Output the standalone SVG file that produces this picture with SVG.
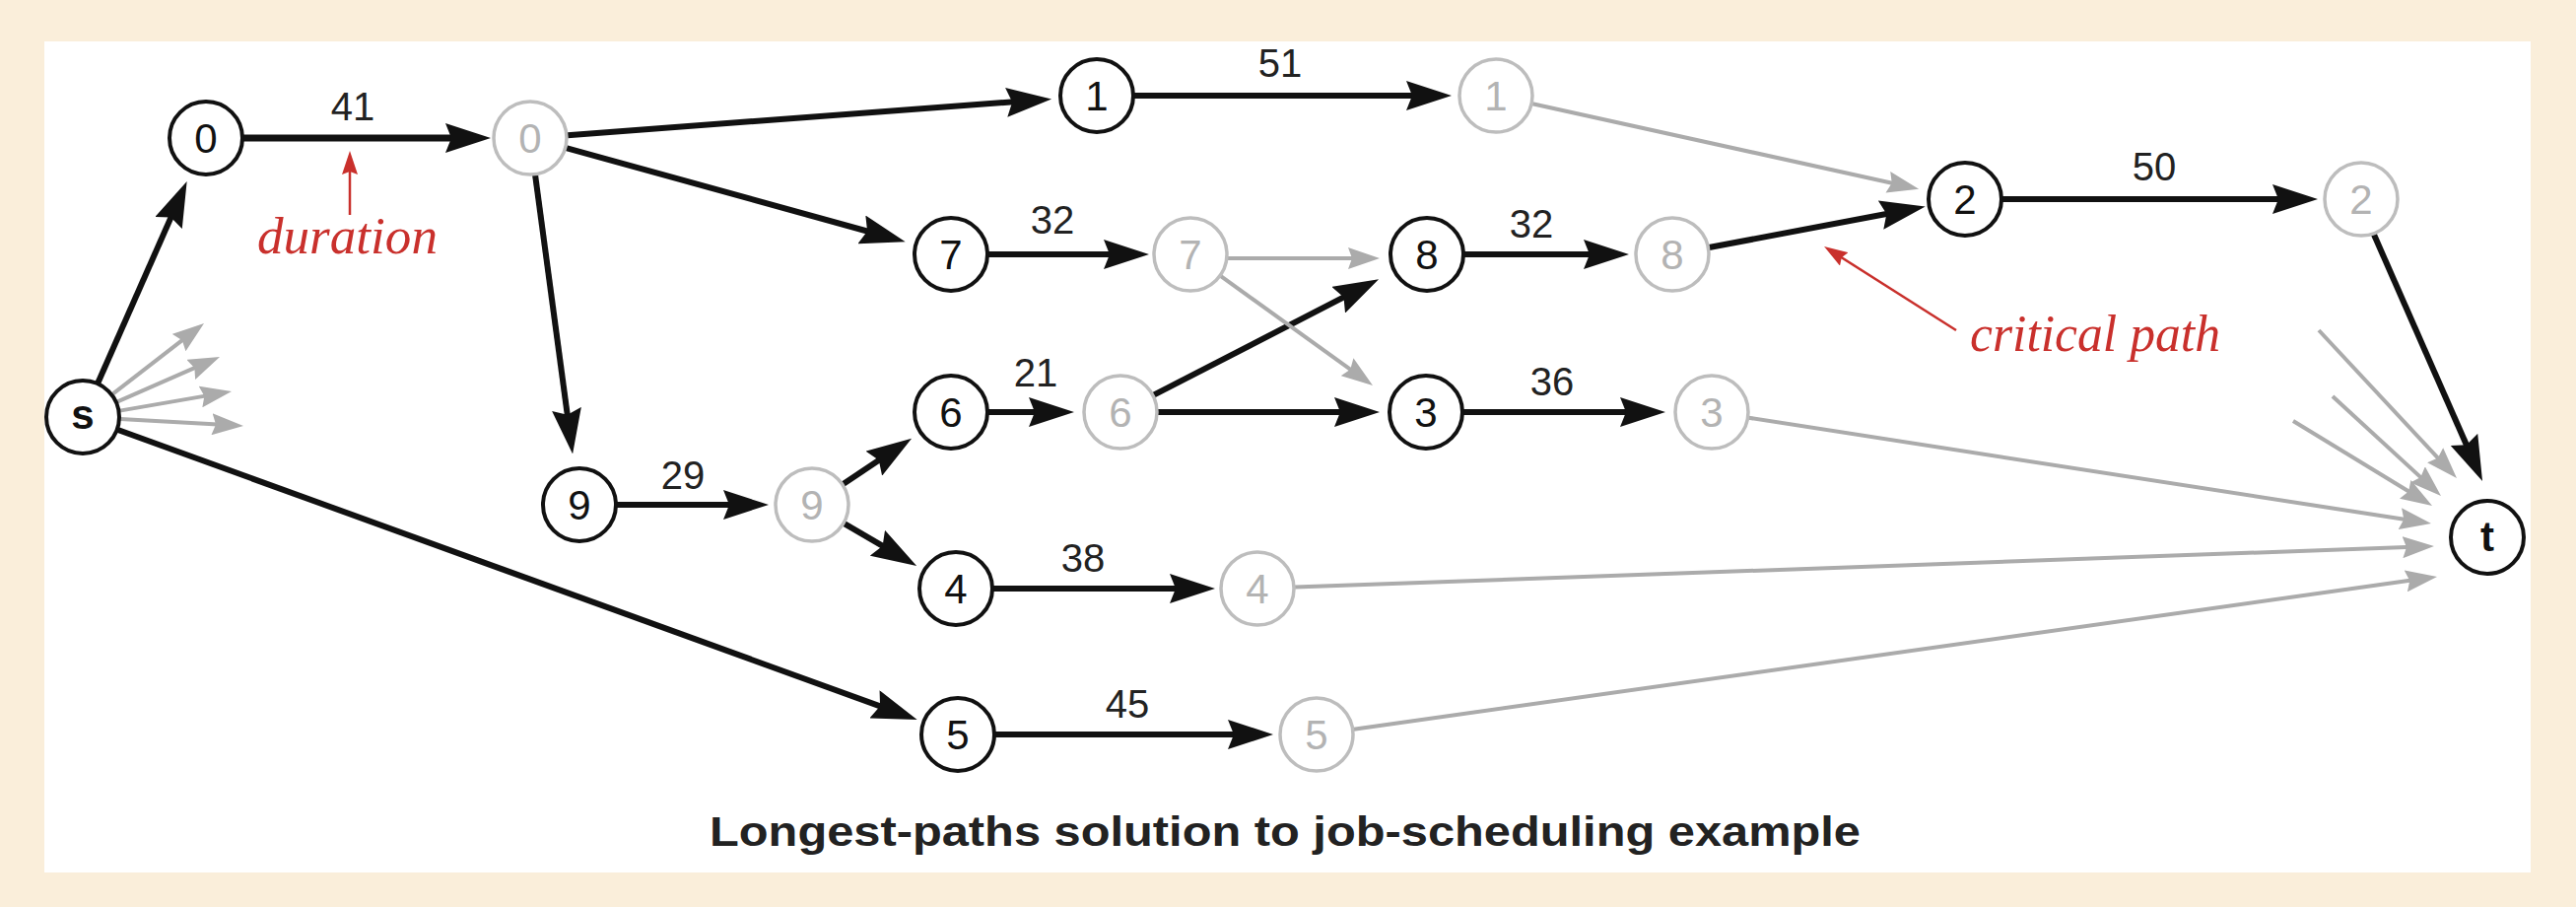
<svg xmlns="http://www.w3.org/2000/svg" width="2614" height="920" viewBox="0 0 2614 920">
<style>
.bk{fill:none;stroke:#111;stroke-width:6;marker-end:url(#ab)}
.gy{fill:none;stroke:#ababab;stroke-width:4;marker-end:url(#ag)}
.rd{fill:none;stroke:#c9302c;stroke-width:2.5;marker-end:url(#ar)}
.nb circle{fill:#fff;stroke:#111;stroke-width:4}
.ng circle{fill:#fff;stroke:#bdbdbd;stroke-width:3.5}
.nb text{font-family:"Liberation Sans",Arial,sans-serif;font-size:42px;fill:#111;text-anchor:middle}
.ng text{font-family:"Liberation Sans",Arial,sans-serif;font-size:42px;fill:#b3b3b3;text-anchor:middle}
.lbl{font-family:"Liberation Sans",Arial,sans-serif;font-size:40px;fill:#222;text-anchor:middle}
.ann{font-family:"Liberation Serif","Times New Roman",serif;font-style:italic;font-size:52px;fill:#c9302c}
.title{font-family:"Liberation Sans",Arial,sans-serif;font-weight:bold;font-size:42px;fill:#222}
</style>
<defs>
<marker id="ab" markerUnits="userSpaceOnUse" markerWidth="46" markerHeight="30" refX="34" refY="15" orient="auto"><path d="M0,0 L46,15 L0,30 L6,15 z" fill="#111"/></marker>
<marker id="ag" markerUnits="userSpaceOnUse" markerWidth="32" markerHeight="22" refX="24" refY="11" orient="auto"><path d="M0,0 L32,11 L0,22 L4,11 z" fill="#ababab"/></marker>
<marker id="ar" markerUnits="userSpaceOnUse" markerWidth="24" markerHeight="16" refX="18" refY="8" orient="auto"><path d="M0,0 L24,8 L0,16 L3,8 z" fill="#c9302c"/></marker>
</defs>
<rect x="0" y="0" width="2614" height="920" fill="#faeeda"/>
<rect x="45" y="42" width="2523" height="843" fill="#fff"/>

<g id="connectors">
<!-- black edges -->
<line class="bk" x1="99.4" y1="388.2" x2="184.8" y2="194.9"/>
<line class="bk" x1="247" y1="140" x2="486" y2="140" style="stroke-width:7"/>
<line class="bk" x1="575.9" y1="137.2" x2="1055.1" y2="101.3"/>
<line class="bk" x1="574.6" y1="150.1" x2="907.1" y2="242.0"/>
<line class="bk" x1="543.1" y1="177.7" x2="579.5" y2="448.6"/>
<line class="bk" x1="1151" y1="97" x2="1461" y2="97"/>
<line class="bk" x1="1003" y1="258" x2="1154" y2="258"/>
<line class="bk" x1="1486" y1="258" x2="1641" y2="258"/>
<line class="bk" x1="1734.3" y1="251.0" x2="1941.9" y2="211.8"/>
<line class="bk" x1="2032" y1="202" x2="2340" y2="202"/>
<line class="bk" x1="2409" y1="238" x2="2514.2" y2="477.0"/>
<line class="bk" x1="1003" y1="418" x2="1078" y2="418"/>
<line class="bk" x1="1170.8" y1="400.6" x2="1388.4" y2="288.7"/>
<line class="bk" x1="1175" y1="418" x2="1388" y2="418"/>
<line class="bk" x1="1485" y1="418" x2="1678" y2="418"/>
<line class="bk" x1="626" y1="512" x2="768" y2="512"/>
<line class="bk" x1="855.6" y1="490.9" x2="915.1" y2="451.3"/>
<line class="bk" x1="856.8" y1="531.1" x2="919.8" y2="567.9"/>
<line class="bk" x1="1008" y1="597" x2="1221" y2="597"/>
<line class="bk" x1="119.7" y1="436.0" x2="919.4" y2="725.9"/>
<line class="bk" x1="1010" y1="745" x2="1280" y2="745"/>
<!-- gray edges -->
<line class="gy" x1="1555.1" y1="105.2" x2="1939.3" y2="190.0"/>
<line class="gy" x1="1246" y1="262" x2="1392" y2="262"/>
<line class="gy" x1="1238.9" y1="280.2" x2="1386.5" y2="386.3"/>
<line class="gy" x1="1774.6" y1="423.8" x2="2459.1" y2="529.8"/>
<line class="gy" x1="1314" y1="595.6" x2="2462" y2="554.3"/>
<line class="gy" x1="1373.6" y1="739.7" x2="2465.1" y2="586.1"/>
<line class="gy" x1="2353" y1="335" x2="2487.5" y2="479.2"/>
<line class="gy" x1="2367" y1="402" x2="2471.1" y2="497.6"/>
<line class="gy" x1="2327" y1="427" x2="2461.2" y2="508.8"/>
<line class="gy" x1="114.1" y1="399.8" x2="200.7" y2="332.9"/>
<line class="gy" x1="118.8" y1="407.7" x2="215.7" y2="365.2"/>
<line class="gy" x1="121.5" y1="416.6" x2="227.1" y2="398.4"/>
<line class="gy" x1="122" y1="425.1" x2="239" y2="431.6"/>
<!-- edge labels -->
<text class="lbl" x="358" y="122">41</text>
<text class="lbl" x="1299" y="78">51</text>
<text class="lbl" x="1068" y="237">32</text>
<text class="lbl" x="1051" y="392">21</text>
<text class="lbl" x="1554" y="241">32</text>
<text class="lbl" x="1575" y="401">36</text>
<text class="lbl" x="2186" y="183">50</text>
<text class="lbl" x="693" y="496">29</text>
<text class="lbl" x="1099" y="580">38</text>
<text class="lbl" x="1144" y="728">45</text>
</g>

<g id="annotations">
<line class="rd" x1="355" y1="218" x2="355" y2="159"/>
<text class="ann" x="261" y="257" textLength="183" lengthAdjust="spacingAndGlyphs">duration</text>
<line class="rd" x1="1985" y1="335" x2="1856.1" y2="253.2"/>
<text class="ann" x="1999" y="356" textLength="254" lengthAdjust="spacingAndGlyphs">critical path</text>
</g>

<g id="node-s" class="nb"><circle cx="84" cy="423" r="37"/><text x="84" y="435" style="font-weight:bold">s</text></g>
<g id="node-0" class="nb"><circle cx="209" cy="140" r="37"/><text x="209" y="155">0</text></g>
<g id="node-0-end" class="ng"><circle cx="538" cy="140" r="37"/><text x="538" y="155">0</text></g>
<g id="node-1" class="nb"><circle cx="1113" cy="97" r="37"/><text x="1113" y="112">1</text></g>
<g id="node-1-end" class="ng"><circle cx="1518" cy="97" r="37"/><text x="1518" y="112">1</text></g>
<g id="node-7" class="nb"><circle cx="965" cy="258" r="37"/><text x="965" y="273">7</text></g>
<g id="node-7-end" class="ng"><circle cx="1208" cy="258" r="37"/><text x="1208" y="273">7</text></g>
<g id="node-8" class="nb"><circle cx="1448" cy="258" r="37"/><text x="1448" y="273">8</text></g>
<g id="node-8-end" class="ng"><circle cx="1697" cy="258" r="37"/><text x="1697" y="273">8</text></g>
<g id="node-2" class="nb"><circle cx="1994" cy="202" r="37"/><text x="1994" y="217">2</text></g>
<g id="node-2-end" class="ng"><circle cx="2396" cy="202" r="37"/><text x="2396" y="217">2</text></g>
<g id="node-6" class="nb"><circle cx="965" cy="418" r="37"/><text x="965" y="433">6</text></g>
<g id="node-6-end" class="ng"><circle cx="1137" cy="418" r="37"/><text x="1137" y="433">6</text></g>
<g id="node-3" class="nb"><circle cx="1447" cy="418" r="37"/><text x="1447" y="433">3</text></g>
<g id="node-3-end" class="ng"><circle cx="1737" cy="418" r="37"/><text x="1737" y="433">3</text></g>
<g id="node-9" class="nb"><circle cx="588" cy="512" r="37"/><text x="588" y="527">9</text></g>
<g id="node-9-end" class="ng"><circle cx="824" cy="512" r="37"/><text x="824" y="527">9</text></g>
<g id="node-4" class="nb"><circle cx="970" cy="597" r="37"/><text x="970" y="612">4</text></g>
<g id="node-4-end" class="ng"><circle cx="1276" cy="597" r="37"/><text x="1276" y="612">4</text></g>
<g id="node-5" class="nb"><circle cx="972" cy="745" r="37"/><text x="972" y="760">5</text></g>
<g id="node-5-end" class="ng"><circle cx="1336" cy="745" r="37"/><text x="1336" y="760">5</text></g>
<g id="node-t" class="nb"><circle cx="2524" cy="545" r="37"/><text x="2524" y="559" style="font-weight:bold">t</text></g>

<text class="title" x="720" y="858" textLength="1168" lengthAdjust="spacingAndGlyphs">Longest-paths solution to job-scheduling example</text>
</svg>
